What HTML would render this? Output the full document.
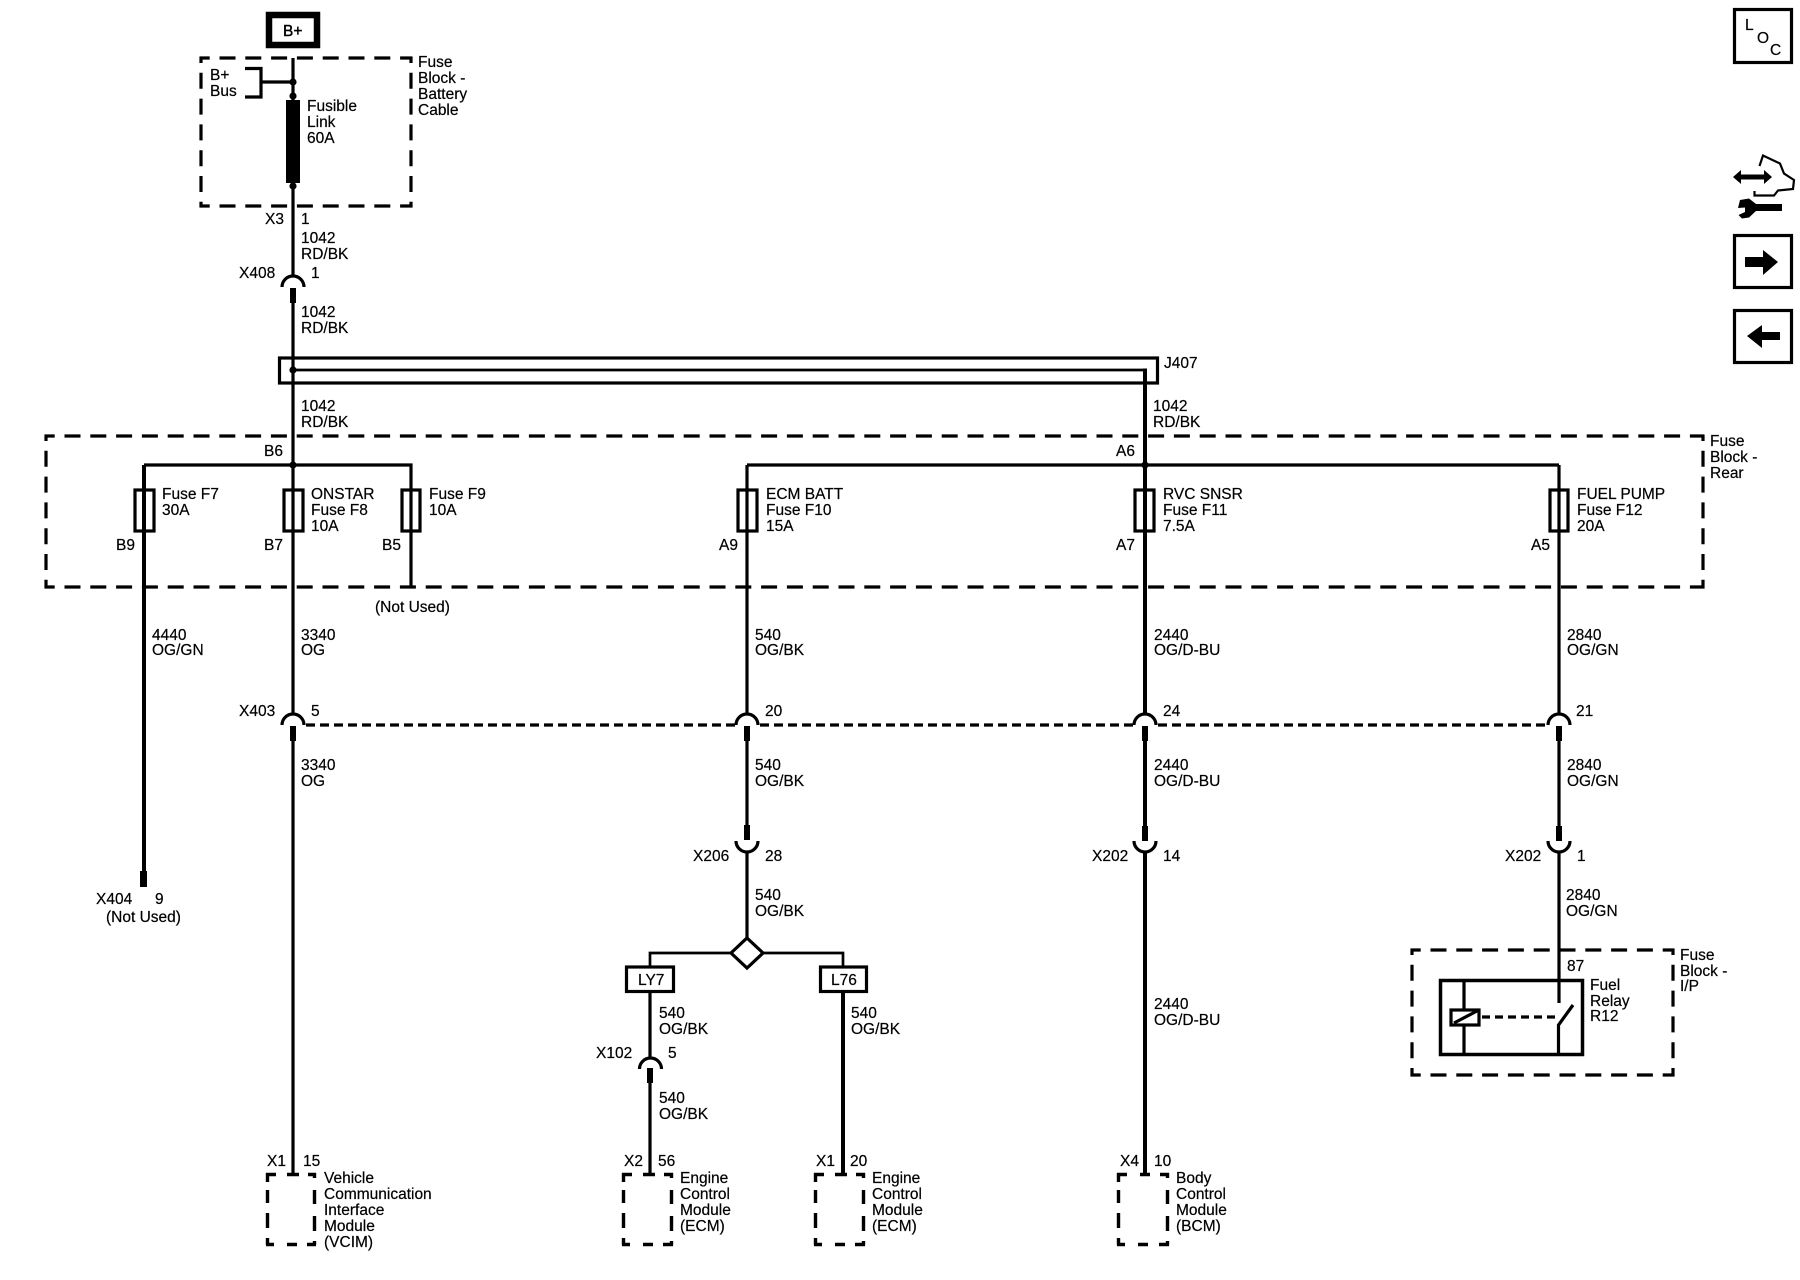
<!DOCTYPE html>
<html><head><meta charset="utf-8"><title>Wiring diagram</title>
<style>
html,body{margin:0;padding:0;background:#fff}
svg{display:block}
text{font-family:"Liberation Sans",sans-serif;font-size:15.5px;fill:#000;stroke:#000;stroke-width:.2}
.w{stroke:#000;stroke-width:3.2;fill:none}
.t{stroke:#000;stroke-width:4;fill:none}
.dh{stroke:#000;stroke-width:3.2;fill:none;stroke-dasharray:16 9.8;stroke-dashoffset:5.8}
.dv{stroke:#000;stroke-width:3.2;fill:none;stroke-dasharray:16 9.8;stroke-dashoffset:10}
.m{stroke:#000;stroke-width:3.4;fill:none}
.s{stroke:#000;stroke-width:3.2;fill:none;stroke-dasharray:9 5}
.n{stroke:#000;stroke-width:3.2;fill:none}
.v{stroke:#000;stroke-width:2.7;fill:none}
</style></head><body>
<svg width="1800" height="1280" viewBox="0 0 1800 1280" xmlns="http://www.w3.org/2000/svg">
<rect width="1800" height="1280" fill="#fff"/>

<!-- dashed enclosures -->
<path class="dh" d="M199.500 58H412.500M199.500 206H412.500"/>
<path class="dv" d="M201 57V207.500M411 57V207.500"/>
<path class="dh" d="M44.500 436H1704.500M44.500 587H1704.500"/>
<path class="dv" d="M46 435V588.500M1703 435V588.500"/>
<path class="dh" d="M1410.500 950H1674.500M1410.500 1075H1674.500"/>
<path class="dv" d="M1412 949V1076.500M1673 949V1076.500"/>

<!-- module boxes -->
<path class="m" d="M266 1174.500h10m11 0h12m9 0h8M266 1244.500h8m13 0h10m10 0h9M267.500 1173v9m0 8v13m0 10v15m0 10v7M314.500 1173v5m0 12v14m0 12v15m0 10v4"/>
<path class="m" d="M622 1174.500h10m11 0h12m9 0h9M622 1244.500h8m13 0h10m10 0h10M623.500 1173v9m0 8v13m0 10v15m0 10v7M671.500 1173v5m0 12v14m0 12v15m0 10v4"/>
<path class="m" d="M814 1174.500h10m11 0h12m9 0h9M814 1244.500h8m13 0h10m10 0h10M815.500 1173v9m0 8v13m0 10v15m0 10v7M863.500 1173v5m0 12v14m0 12v15m0 10v4"/>
<path class="m" d="M1117 1174.500h10m13 0h10m10 0h9M1117 1244.500h8m13 0h10m11 0h10M1118.500 1173v9m0 8v13m0 10v15m0 10v7M1167.500 1173v5m0 12v14m0 12v15m0 10v4"/>

<!-- B+ -->
<rect x="269" y="15" width="48" height="30" fill="#fff" stroke="#000" stroke-width="6.5"/>
<text x="283" y="36" style="font-size:15.5px;stroke-width:.4">B+</text>

<!-- B+ bus and fusible link -->
<path class="w" d="M245 68.500H261V97H245M261 82H293"/>
<path class="w" d="M293 58V276"/>
<circle cx="293" cy="82" r="3.600"/>
<circle cx="293" cy="96" r="3.600"/>
<rect x="286" y="100" width="14" height="83"/>
<circle cx="293" cy="186" r="3.600"/>

<!-- J407 -->
<rect class="n" x="279.500" y="358" width="878" height="25"/>
<path class="v" d="M293 370H1145"/>
<path class="t" d="M1145 368.500V715"/>
<circle cx="293" cy="370" r="3.600"/>
<path class="w" d="M293 303V715"/>
<rect x="290" y="288" width="6" height="15"/>

<!-- fuse buses -->
<path class="w" d="M144 465H411V587"/>
<path class="w" d="M747 465H1559"/>
<circle cx="293" cy="465" r="3.600"/>
<circle cx="1145" cy="465" r="3.600"/>
<path class="t" d="M144 465V872"/>
<rect x="140" y="871" width="7" height="16"/>
<path class="w" d="M747 465V715"/>
<path class="w" d="M1559 465V715"/>

<!-- fuses -->
<rect class="n" x="135" y="490" width="19" height="41"/>
<rect class="n" x="284" y="490" width="19" height="41"/>
<rect class="n" x="402" y="490" width="18" height="41"/>
<rect class="n" x="738" y="490" width="19" height="41"/>
<rect class="n" x="1135" y="490" width="19" height="41"/>
<rect class="n" x="1550" y="490" width="18" height="41"/>

<!-- X403 row -->
<path class="w" d="M282 287A11 11 0 0 1 304 287"/>
<path class="w" d="M282 725A11 11 0 0 1 304 725"/>
<path class="w" d="M736 725A11 11 0 0 1 758 725"/>
<path class="w" d="M1134 725A11 11 0 0 1 1156 725"/>
<path class="w" d="M1548 725A11 11 0 0 1 1570 725"/>
<path class="s" d="M306 725H736M760 725H1134M1158 725H1548"/>
<rect x="290" y="726" width="6" height="15"/>
<rect x="744" y="726" width="6" height="15"/>
<rect x="1142" y="726" width="6" height="15"/>
<rect x="1556" y="726" width="6" height="15"/>
<path class="w" d="M293 741V1174"/>
<path class="w" d="M747 741V826"/>
<path class="t" d="M1145 741V826"/>
<path class="w" d="M1559 741V826"/>

<!-- lower connectors -->
<rect x="744" y="825" width="6" height="15"/>
<rect x="1142" y="826" width="6" height="15"/>
<rect x="1556" y="826" width="6" height="15"/>
<path class="w" d="M736 841A11 11 0 0 0 758 841"/>
<path class="w" d="M1134 841A11 11 0 0 0 1156 841"/>
<path class="w" d="M1548 841A11 11 0 0 0 1570 841"/>
<path class="w" d="M747 851V938"/>
<path class="t" d="M1145 851V1174"/>
<path class="w" d="M1559 851V1003"/>

<!-- splice diamond -->
<path class="v" d="M650 967V953H731M763 953H843V967"/>
<path class="n" d="M747 938L763 953L747 968L731 953Z"/>
<rect class="n" x="626.500" y="967" width="47" height="24.500"/>
<rect class="n" x="820.500" y="967" width="46" height="24.500"/>
<path class="w" d="M650 992V1058"/>
<path class="w" d="M639.500 1069A11 11 0 0 1 661.500 1069"/>
<rect x="647" y="1068" width="6" height="15"/>
<path class="w" d="M650 1083V1174"/>
<path class="t" d="M843 992V1174"/>

<!-- relay -->
<rect x="1440.500" y="980.500" width="142" height="74" fill="none" stroke="#000" stroke-width="3.500"/>
<path class="w" d="M1464 981V1009M1464 1026V1055"/>
<rect class="n" x="1451" y="1010" width="28" height="15"/>
<path class="n" d="M1454 1023L1477 1011"/>
<path class="s" style="stroke-dasharray:8 5" d="M1482 1017H1556"/>
<path class="w" d="M1558.500 1055V1025L1573 1005"/>

<!-- LOC + nav icons -->
<rect x="1734.500" y="9.500" width="57" height="53" fill="none" stroke="#000" stroke-width="3.200"/>
<text x="1745" y="30">L</text><text x="1757" y="43">O</text><text x="1770" y="55">C</text>
<path d="M1733 177L1741 170V174.500H1764V170L1772 177L1764 184V179.500H1741V184Z"/>
<path d="M1759.500 166L1763 155.500L1780 163.500L1784 173.500L1794 180L1793 189L1778 190.500L1774 195.500H1754.500V191" fill="none" stroke="#000" stroke-width="2.200"/>
<rect x="1753" y="204" width="29" height="7"/>
<path d="M1740 200L1749 198.500L1756 204V211L1749 217.500L1742 218.500L1738.500 215L1745 212L1745 207.500L1738 208Z"/>
<rect x="1734.500" y="235.500" width="57" height="52" fill="none" stroke="#000" stroke-width="3.200"/>
<path d="M1745 257H1763V250L1778 262L1763 275V267H1745Z"/>
<rect x="1734.500" y="310.500" width="57" height="52" fill="none" stroke="#000" stroke-width="3.200"/>
<path d="M1780 332H1762V325L1747 336L1762 348V340H1780Z"/>

<!-- labels -->
<text x="418" y="67">Fuse</text><text x="418" y="83">Block -</text><text x="418" y="99">Battery</text><text x="418" y="115">Cable</text>
<text x="210" y="80">B+</text><text x="210" y="96">Bus</text>
<text x="307" y="111">Fusible</text><text x="307" y="127">Link</text><text x="307" y="143">60A</text>
<text x="265" y="224">X3</text><text x="301" y="224">1</text>
<text x="301" y="243">1042</text><text x="301" y="259">RD/BK</text>
<text x="239" y="278">X408</text><text x="311" y="278">1</text>
<text x="301" y="317">1042</text><text x="301" y="333">RD/BK</text>
<text x="1164" y="368">J407</text>
<text x="301" y="411">1042</text><text x="301" y="427">RD/BK</text>
<text x="1153" y="411">1042</text><text x="1153" y="427">RD/BK</text>
<text x="1710" y="446">Fuse</text><text x="1710" y="462">Block -</text><text x="1710" y="478">Rear</text>
<text x="264" y="456">B6</text><text x="1116" y="456">A6</text>

<text x="162" y="499">Fuse F7</text><text x="162" y="515">30A</text>
<text x="311" y="499">ONSTAR</text><text x="311" y="515">Fuse F8</text><text x="311" y="531">10A</text>
<text x="429" y="499">Fuse F9</text><text x="429" y="515">10A</text>
<text x="766" y="499">ECM BATT</text><text x="766" y="515">Fuse F10</text><text x="766" y="531">15A</text>
<text x="1163" y="499">RVC SNSR</text><text x="1163" y="515">Fuse F11</text><text x="1163" y="531">7.5A</text>
<text x="1577" y="499">FUEL PUMP</text><text x="1577" y="515">Fuse F12</text><text x="1577" y="531">20A</text>

<text x="116" y="550">B9</text><text x="264" y="550">B7</text><text x="382" y="550">B5</text>
<text x="719" y="550">A9</text><text x="1116" y="550">A7</text><text x="1531" y="550">A5</text>
<text x="375" y="612">(Not Used)</text>

<text x="152" y="640">4440</text><text x="152" y="655">OG/GN</text>
<text x="301" y="640">3340</text><text x="301" y="655">OG</text>
<text x="755" y="640">540</text><text x="755" y="655">OG/BK</text>
<text x="1154" y="640">2440</text><text x="1154" y="655">OG/D-BU</text>
<text x="1567" y="640">2840</text><text x="1567" y="655">OG/GN</text>

<text x="239" y="716">X403</text><text x="311" y="716">5</text>
<text x="765" y="716">20</text><text x="1163" y="716">24</text><text x="1576" y="716">21</text>

<text x="301" y="770">3340</text><text x="301" y="786">OG</text>
<text x="755" y="770">540</text><text x="755" y="786">OG/BK</text>
<text x="1154" y="770">2440</text><text x="1154" y="786">OG/D-BU</text>
<text x="1567" y="770">2840</text><text x="1567" y="786">OG/GN</text>

<text x="693" y="861">X206</text><text x="765" y="861">28</text>
<text x="1092" y="861">X202</text><text x="1163" y="861">14</text>
<text x="1505" y="861">X202</text><text x="1577" y="861">1</text>
<text x="96" y="904">X404</text><text x="155" y="904">9</text>
<text x="106" y="922">(Not Used)</text>

<text x="755" y="900">540</text><text x="755" y="916">OG/BK</text>
<text x="1566" y="900">2840</text><text x="1566" y="916">OG/GN</text>

<text x="638" y="985">LY7</text><text x="831" y="985">L76</text>
<text x="659" y="1018">540</text><text x="659" y="1034">OG/BK</text>
<text x="851" y="1018">540</text><text x="851" y="1034">OG/BK</text>
<text x="596" y="1058">X102</text><text x="668" y="1058">5</text>
<text x="659" y="1103">540</text><text x="659" y="1119">OG/BK</text>
<text x="1154" y="1009">2440</text><text x="1154" y="1025">OG/D-BU</text>

<text x="1680" y="960">Fuse</text><text x="1680" y="976">Block -</text><text x="1680" y="991">I/P</text>
<text x="1567" y="971">87</text>
<text x="1590" y="990">Fuel</text><text x="1590" y="1006">Relay</text><text x="1590" y="1021">R12</text>

<text x="267" y="1166">X1</text><text x="303" y="1166">15</text>
<text x="624" y="1166">X2</text><text x="658" y="1166">56</text>
<text x="816" y="1166">X1</text><text x="850" y="1166">20</text>
<text x="1120" y="1166">X4</text><text x="1154" y="1166">10</text>

<text x="324" y="1183">Vehicle</text><text x="324" y="1199">Communication</text><text x="324" y="1215">Interface</text><text x="324" y="1231">Module</text><text x="324" y="1247">(VCIM)</text>
<text x="680" y="1183">Engine</text><text x="680" y="1199">Control</text><text x="680" y="1215">Module</text><text x="680" y="1231">(ECM)</text>
<text x="872" y="1183">Engine</text><text x="872" y="1199">Control</text><text x="872" y="1215">Module</text><text x="872" y="1231">(ECM)</text>
<text x="1176" y="1183">Body</text><text x="1176" y="1199">Control</text><text x="1176" y="1215">Module</text><text x="1176" y="1231">(BCM)</text>
</svg>
</body></html>
